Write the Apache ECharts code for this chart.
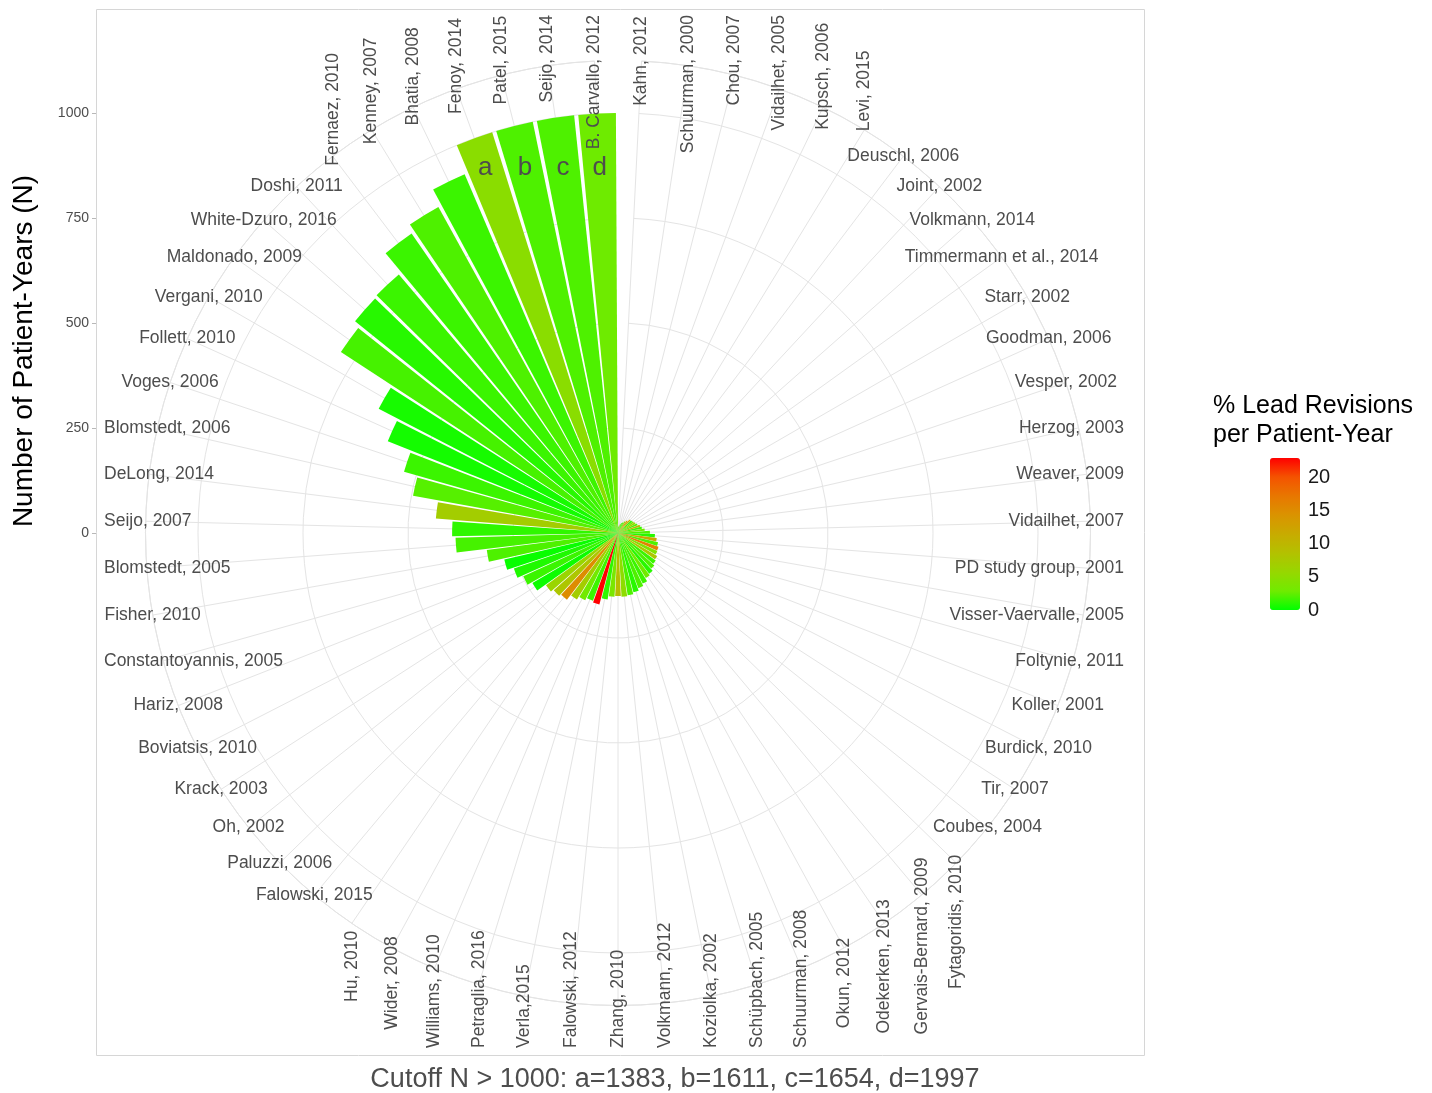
<!DOCTYPE html>
<html>
<head>
<meta charset="utf-8">
<title>Lead revisions per patient-year</title>
<script src="https://cdn.jsdelivr.net/npm/echarts@6/dist/echarts.min.js"></script>
<style>
  html, body { margin: 0; padding: 0; background: #fff; }
  #main { width: 1432px; height: 1093px; }
</style>
</head>
<body>
<div id="main"></div>
<script>
// studies, clockwise from 12 o'clock
var studies = [
  "Kahn, 2012", "Schuurman, 2000", "Chou, 2007", "Vidailhet, 2005", "Kupsch, 2006",
  "Levi, 2015", "Deuschl, 2006", "Joint, 2002", "Volkmann, 2014", "Timmermann et al., 2014",
  "Starr, 2002", "Goodman, 2006", "Vesper, 2002", "Herzog, 2003", "Weaver, 2009",
  "Vidailhet, 2007", "PD study group, 2001", "Visser-Vaervalle, 2005", "Foltynie, 2011", "Koller, 2001",
  "Burdick, 2010", "Tir, 2007", "Coubes, 2004", "Fytagoridis, 2010", "Gervais-Bernard, 2009",
  "Odekerken, 2013", "Okun, 2012", "Schuurman, 2008", "Schüpbach, 2005", "Koziolka, 2002",
  "Volkmann, 2012", "Zhang, 2010", "Falowski, 2012", "Verla,2015", "Petraglia, 2016",
  "Williams, 2010", "Wider, 2008", "Hu, 2010", "Falowski, 2015", "Paluzzi, 2006",
  "Oh, 2002", "Krack, 2003", "Boviatsis, 2010", "Hariz, 2008", "Constantoyannis, 2005",
  "Fisher, 2010", "Blomstedt, 2005", "Seijo, 2007", "DeLong, 2014", "Blomstedt, 2006",
  "Voges, 2006", "Follett, 2010", "Vergani, 2010", "Maldonado, 2009", "White-Dzuro, 2016",
  "Doshi, 2011", "Fernaez, 2010", "Kenney, 2007", "Bhatia, 2008", "Fenoy, 2014",
  "Patel, 2015", "Seijo, 2014", "B. Carvallo, 2012"
];

// number of patient-years (N)
var patientYears = [
  15, 18, 22, 25, 28,
  32, 36, 42, 43, 45,
  47, 50, 55, 58, 64,
  76, 88, 93, 98, 102,
  103, 108, 111, 116, 122,
  126, 134, 140, 146, 150,
  152, 150, 152, 160, 176,
  172, 178, 186, 200, 205,
  212, 236, 248, 262, 278,
  315, 387, 395, 435, 496,
  530, 590, 642, 788, 804,
  807, 866, 886, 929, 1383,
  1611, 1654, 1997
];

// % lead revisions per patient-year
var revisionPct = [
  1, 2, 6, 1, 2,
  4, 14, 11, 1, 3,
  6, 2, 10, 1.5, 3,
  2, 1, 12, 2, 16,
  4, 8, 1.5, 2, 1,
  3, 1.5, 2, 1, 2,
  5, 9, 3.5, 1.2, 22.9,
  1.5, 3, 7, 15, 8,
  6, 0.3, 1.5, 0.8, 0.2,
  2, 1.8, 1.2, 7, 2.2,
  1.5, 0.5, 0.6, 1.8, 1,
  1.5, 1.5, 2, 1.5, 4.8,
  2, 2, 2.8
];

var radiusTicks = [0, 250, 500, 750, 1000];
var legendTicks = [0, 5, 10, 15, 20];
var cutoff = 1000;
var overflowTags = ["a", "b", "c", "d"];

var FONT = '"Liberation Sans", Arial, sans-serif';
var CX = 618, CY = 533;
var R_OUT = 472.5;          // pixel radius of outer ring
var R_MAX = 1125;           // data value at the outer ring
var PCT_MAX = 22.9;
var gradient = ["#00ff00", "#70eb00", "#97d700", "#b3c100", "#c8ab00",
                "#da9300", "#e87700", "#f45300", "#ff0000"];
var gridColor = "#e4e4e4";

var chart = echarts.init(document.getElementById("main"), null, { renderer: "canvas" });

var option = {
  animation: false,
  backgroundColor: "#ffffff",
  textStyle: { fontFamily: FONT },
  polar: { center: [CX, CY], radius: R_OUT },
  angleAxis: {
    type: "category",
    data: studies,
    boundaryGap: false,
    startAngle: 90 - 180 / studies.length,
    clockwise: true,
    axisLine: { show: true, lineStyle: { color: gridColor, width: 1 } },
    axisTick: { show: false },
    axisLabel: { show: false, interval: 0 },
    splitLine: { show: true, interval: 0, lineStyle: { color: gridColor, width: 1 } }
  },
  radiusAxis: {
    type: "value",
    min: 0,
    max: R_MAX,
    interval: 250,
    axisLine: { show: false },
    axisTick: { show: false },
    axisLabel: { show: false },
    splitLine: { show: true, lineStyle: { color: gridColor, width: 1 } }
  },
  grid: [
    // radial axis shown on the left edge of the panel
    { left: 96, top: CY - R_OUT, width: 1, height: R_OUT, show: false },
    // colour bar ticks
    { left: 1270, top: 458, width: 30, height: 152, show: false }
  ],
  xAxis: [
    { gridIndex: 0, type: "value", show: false },
    { gridIndex: 1, type: "value", show: false }
  ],
  yAxis: [
    {
      gridIndex: 0, type: "value", min: 0, max: R_MAX,
      axisLine: { show: false },
      axisTick: { show: true, length: 4, customValues: radiusTicks, lineStyle: { color: "#b8b8b8" } },
      axisLabel: {
        customValues: radiusTicks, margin: 7, color: "#4d4d4d", fontSize: 14, fontFamily: FONT,
        formatter: function (v) { return String(v); }
      },
      splitLine: { show: false }
    },
    {
      gridIndex: 1, type: "value", min: 0, max: PCT_MAX, position: "right",
      axisLine: { show: false },
      axisTick: { show: false },
      axisLabel: {
        customValues: legendTicks, margin: 8, color: "#1a1a1a", fontSize: 20, fontFamily: FONT,
        formatter: function (v) { return String(v); }
      },
      splitLine: { show: false }
    }
  ],
  visualMap: {
    type: "continuous",
    min: 0,
    max: PCT_MAX,
    dimension: 2,
    seriesIndex: 0,
    calculable: false,
    hoverLink: false,
    orient: "vertical",
    left: 1270,
    top: 458,
    padding: 0,
    itemWidth: 30,
    itemHeight: 152,
    text: null,
    inRange: { color: gradient }
  },
  series: [
    {
      type: "bar",
      coordinateSystem: "polar",
      encode: { radius: 0, angle: 1 },
      data: studies.map(function (s, i) {
        return [Math.min(patientYears[i], cutoff), i, revisionPct[i]];
      }),
      barWidth: "90%",
      silent: true,
      z: 2
    }
  ]
};

chart.setOption(option);

// ---- texts placed through the polar scale ----
var c = chart.convertToPixel({ polarIndex: 0 }, [0, 0]);
var LABEL_FONT = "17.5px " + FONT;
var textBox = { left: 104, right: 1124, top: 15, bottom: 1048 };
var measure = document.createElement("canvas").getContext("2d");
measure.font = LABEL_FONT;

var graphics = [];

function upright(i) { return i >= 56 || i <= 5 || (i >= 23 && i <= 37); }

studies.forEach(function (name, i) {
  var p = chart.convertToPixel({ polarIndex: 0 }, [R_MAX, i]);
  var w = measure.measureText(name).width;
  var el = {
    type: "text", silent: true, z: 10, x: p[0], y: p[1],
    style: { text: name, fill: "#4d4d4d", font: LABEL_FONT,
             textAlign: "center", textVerticalAlign: "middle" }
  };
  if (upright(i)) {
    var sinPhi = Math.min(1, Math.abs(p[0] - c[0]) / R_OUT);
    var phi = Math.asin(sinPhi) * 180 / Math.PI;
    var shift = Math.max(0, 1.4 * phi - 5);
    var mid = p[1] < c[1] ? p[1] - shift : p[1] + shift;
    el.y = Math.max(textBox.top + w / 2, Math.min(textBox.bottom - w / 2, mid));
    el.rotation = Math.PI / 2;
  } else {
    el.x = Math.max(textBox.left + w / 2, Math.min(textBox.right - w / 2, p[0]));
  }
  graphics.push(el);
});

// tags for bars cut at the cutoff
var TAG_RISE = 365;
var tagged = [];
patientYears.forEach(function (v, i) {
  if (v > cutoff) {
    var tag = overflowTags[tagged.length];
    tagged.push(tag + "=" + v);
    var q = chart.convertToPixel({ polarIndex: 0 }, [cutoff, i]);
    var t = TAG_RISE / (c[1] - q[1]);
    graphics.push({
      type: "text", silent: true, z: 10,
      x: c[0] + (q[0] - c[0]) * t, y: c[1] - TAG_RISE,
      style: { text: tag, fill: "#4d4d4d", font: "26px " + FONT,
               textAlign: "center", textVerticalAlign: "middle" }
    });
  }
});

// panel border
graphics.push({
  type: "rect", silent: true, z: -1,
  shape: { x: 96.5, y: 9.5, width: 1048, height: 1046 },
  style: { fill: "none", stroke: "#d6d6d6", lineWidth: 1 }
});

// radial axis title
graphics.push({
  type: "text", silent: true, x: 24, y: 351, rotation: Math.PI / 2,
  style: { text: "Number of Patient-Years (N)", fill: "#000000", font: "28px " + FONT,
           textAlign: "center", textVerticalAlign: "middle" }
});

// caption
graphics.push({
  type: "text", silent: true, x: 675, y: 1080,
  style: { text: "Cutoff N > " + cutoff + ": " + tagged.join(", "), fill: "#4d4d4d",
           font: "27px " + FONT, textAlign: "center", textVerticalAlign: "middle" }
});

// legend title
graphics.push({
  type: "text", silent: true, x: 1213, y: 392,
  style: { text: "% Lead Revisions\nper Patient-Year", fill: "#000000", font: "25px " + FONT,
           lineHeight: 29, textAlign: "left", textVerticalAlign: "top" }
});

chart.setOption({ graphic: graphics });
</script>
</body>
</html>
